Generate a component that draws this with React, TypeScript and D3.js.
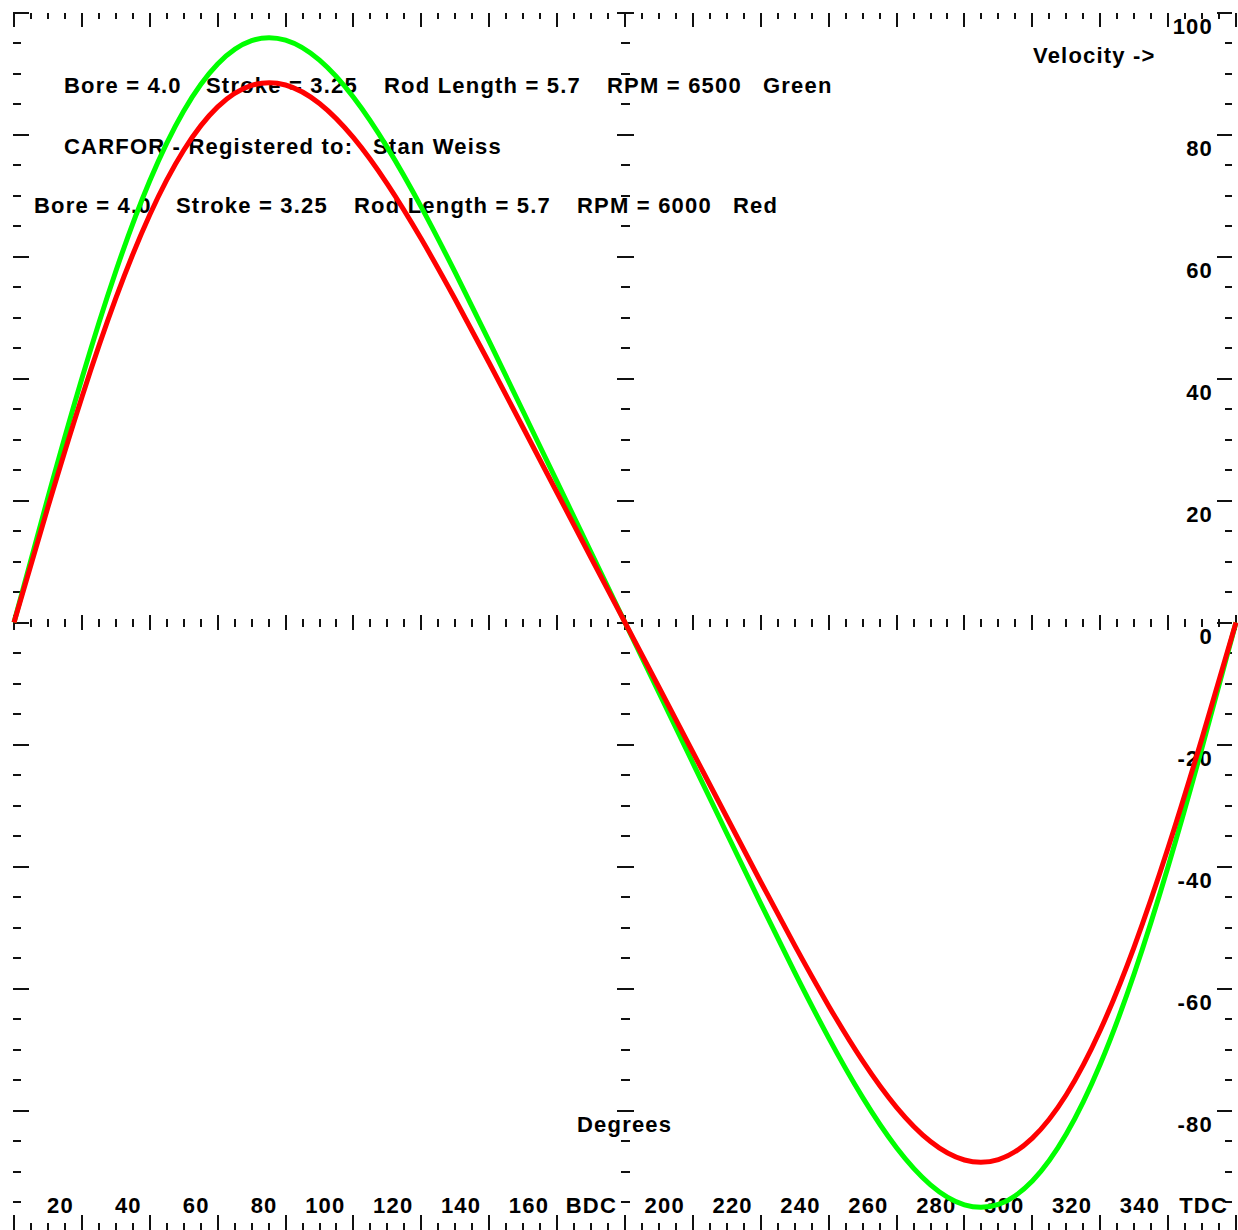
import React from "react";
import * as d3 from "d3";

// ---- data ----
const degrees = [0, 10, 20, 30, 40, 50, 60, 70, 80, 90, 100, 110, 120, 130, 140, 150, 160, 170, 180,
  190, 200, 210, 220, 230, 240, 250, 260, 270, 280, 290, 300, 310, 320, 330, 340, 350, 360];
const greenVelocity = [0, 20.51, 40.01, 57.59, 72.42, 83.87, 91.57, 95.39, 95.46, 92.18, 86.1, 77.85, 68.09, 57.35,
  46.09, 34.59, 23.04, 11.51, 0, -11.51, -23.04, -34.59, -46.09, -57.35, -68.09, -77.85, -86.1, -92.18, -95.46,
  -95.39, -91.57, -83.87, -72.42, -57.59, -40.01, -20.51, 0];
const redVelocity = [0, 18.93, 36.94, 53.16, 66.85, 77.42, 84.53, 88.05, 88.12, 85.09, 79.48, 71.87, 62.85, 52.94,
  42.54, 31.93, 21.27, 10.62, 0, -10.62, -21.27, -31.93, -42.54, -52.94, -62.85, -71.87, -79.48, -85.09, -88.12,
  -88.05, -84.53, -77.42, -66.85, -53.16, -36.94, -18.93, 0];
const xLabelDegrees = [20, 40, 60, 80, 100, 120, 140, 160, 180, 200, 220, 240, 260, 280, 300, 320, 340, 360];
const xLabels = ["20", "40", "60", "80", "100", "120", "140", "160", "BDC", "200", "220", "240", "260", "280",
  "300", "320", "340", "TDC"];
const yLabelValues = [100, 80, 60, 40, 20, 0, -20, -40, -60, -80];
const yLabels = ["100", "80", "60", "40", "20", "0", "-20", "-40", "-60", "-80"];
const greenInfo = ["Bore = 4.0", "Stroke = 3.25", "Rod Length = 5.7", "RPM = 6500", "Green"];
const redInfo = ["Bore = 4.0", "Stroke = 3.25", "Rod Length = 5.7", "RPM = 6000", "Red"];
const registerInfo = ["CARFOR - Registered to:", "Stan Weiss"];
const yAxisTitle = "Velocity ->";
const xAxisTitle = "Degrees";

// ---- layout ----
const W = 1238;
const H = 1230;
const FONT = "'Liberation Sans', Arial, sans-serif";
const textStyle = { fontFamily: FONT, fontWeight: 700, fontSize: 22, letterSpacing: 1.2 } as const;
const infoOffsets = [0, 142, 320, 543, 699];
const TICK = "#111";

export default function App() {
  const x = d3.scaleLinear().domain([0, 360]).range([14, 1236]);
  const y = d3.scaleLinear().domain([-100, 100]).range([1232.5, 12.5]);
  const xTicks = d3.range(0, 361, 5);
  const yTicks = d3.range(-100, 101, 5);
  const line = d3
    .line<number>()
    .x((_, i) => x(degrees[i]))
    .y((d) => y(d))
    .curve(d3.curveNatural);

  const ticks: React.ReactNode[] = [];
  const y0 = y(0);
  const xc = x(180);
  xTicks.forEach((d) => {
    const major = d % 20 === 0;
    const px = x(d);
    ticks.push(<line key={`t${d}`} x1={px} x2={px} y1={13} y2={major ? 27 : 19} />);
    ticks.push(<line key={`m${d}`} x1={px} x2={px} y1={y0 - (major ? 7.5 : 4)} y2={y0 + (major ? 7.5 : 4)} />);
    ticks.push(<line key={`b${d}`} x1={px} x2={px} y1={major ? 1215 : 1223} y2={1231} />);
  });
  yTicks.forEach((v) => {
    const major = v % 20 === 0;
    const py = y(v);
    ticks.push(<line key={`l${v}`} x1={13} x2={major ? 29 : 21} y1={py} y2={py} />);
    ticks.push(<line key={`c${v}`} x1={xc - (major ? 8.5 : 4.5)} x2={xc + (major ? 8.5 : 4.5)} y1={py} y2={py} />);
    ticks.push(<line key={`r${v}`} x1={major ? 1217 : 1225} x2={1232} y1={py} y2={py} />);
  });

  return (
    <svg
      width={W}
      height={H}
      viewBox={`0 0 ${W} ${H}`}
      style={{ position: "absolute", left: 0, top: 0, background: "#fff" }}
    >
      <rect x={0} y={0} width={W} height={H} fill="#fff" />
      <g stroke={TICK} strokeWidth={2} shapeRendering="crispEdges">
        {ticks}
      </g>
      <g style={textStyle} fill="#000">
        {greenInfo.map((t, i) => (
          <text key={`g${i}`} x={64 + infoOffsets[i]} y={93}>{t}</text>
        ))}
        <text x={64} y={154}>{registerInfo[0]}</text>
        <text x={373} y={154}>{registerInfo[1]}</text>
        {redInfo.map((t, i) => (
          <text key={`r${i}`} x={34 + infoOffsets[i]} y={213}>{t}</text>
        ))}
        <text x={1033} y={63}>{yAxisTitle}</text>
        <text x={577} y={1132}>{xAxisTitle}</text>
        {xLabels.map((t, i) => (
          <text key={`xl${i}`} x={x(xLabelDegrees[i]) - 8} y={1213} textAnchor="end">{t}</text>
        ))}
        {yLabels.map((t, i) => (
          <text key={`yl${i}`} x={1213} y={y(yLabelValues[i]) + 21} textAnchor="end">{t}</text>
        ))}
      </g>
      <path d={line(greenVelocity) || ""} fill="none" stroke="#00ff00" strokeWidth={5} />
      <path d={line(redVelocity) || ""} fill="none" stroke="#ff0000" strokeWidth={5} />
    </svg>
  );
}
